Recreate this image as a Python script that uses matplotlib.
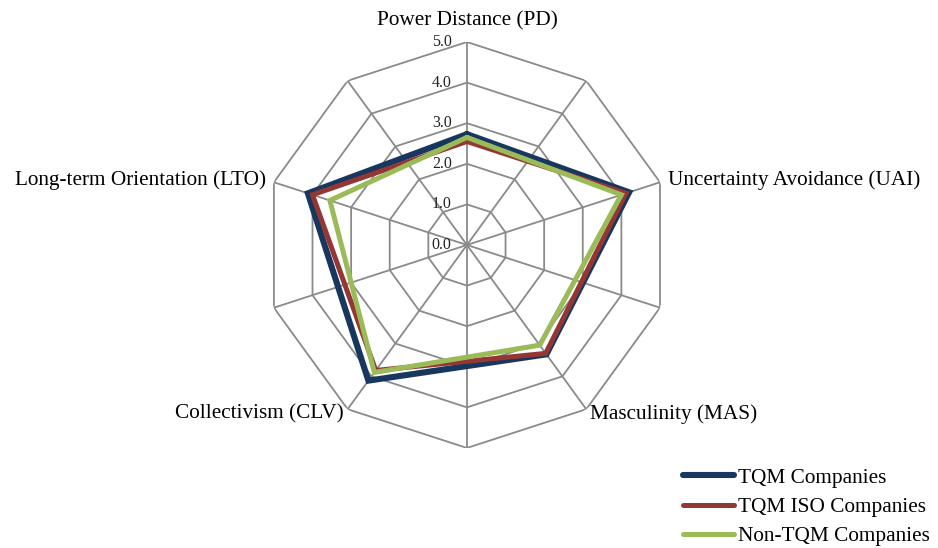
import numpy as np
import matplotlib.pyplot as plt

plt.rcParams['font.family'] = ['Liberation Serif', 'DejaVu Serif']

dimensions = ['Power Distance (PD)', 'Uncertainty Avoidance (UAI)', 'Masculinity (MAS)',
              'Collectivism (CLV)', 'Long-term Orientation (LTO)']
tqm = [2.73, 4.20, 3.33, 4.13, 4.12]
tqm_iso = [2.55, 4.12, 3.30, 3.82, 4.00]
non_tqm = [2.65, 4.00, 3.05, 3.88, 3.55]
series_names = ['TQM Companies', 'TQM ISO Companies', 'Non-TQM Companies']
colors = ['#17375E', '#943634', '#9BBB59']
widths = [4.4, 3.6, 3.6]
rings = [0.0, 1.0, 2.0, 3.0, 4.0, 5.0]

fig = plt.figure(figsize=(9.38, 5.48), dpi=100)
ax = fig.add_axes([0.2814, 0.1825, 0.4328, 0.7409], projection='polar')
ax.set_theta_zero_location('N')
ax.set_theta_direction(-1)
ax.set_ylim(0, 5)
ax.grid(False)
ax.set_xticks([])
ax.set_yticks([])
ax.spines['polar'].set_visible(False)

# decagon web: twice as many spokes as there are dimensions
n = len(dimensions)
web = np.linspace(0, 2 * np.pi, 2 * n, endpoint=False)
grid_col = '#8A8A8A'
for r in rings[1:]:
    ax.plot(np.append(web, web[0]), [r] * (2 * n + 1), color=grid_col, lw=1.3, zorder=1)
for t in web:
    ax.plot([t, t], [0, rings[-1]], color=grid_col, lw=1.3, zorder=1)

for r in rings:
    ax.annotate(f'{r:.1f}', xy=(0, r), xytext=(-11, 0), textcoords='offset points',
                ha='right', va='center', fontsize=11.5, color='#222222')

angles = np.linspace(0, 2 * np.pi, n, endpoint=False)
for vals, name, c, lw in zip([tqm, tqm_iso, non_tqm], series_names, colors, widths):
    ax.plot(np.append(angles, angles[0]), vals + vals[:1], color=c, lw=lw,
            solid_joinstyle='miter', solid_capstyle='round', label=name, zorder=3)

fs = 15.3
ax.text(0, 5.53, dimensions[0], ha='center', va='center', fontsize=fs)
ax.text(angles[1], 5.2, dimensions[1], ha='left', va='center', fontsize=fs)
ax.text(angles[2], 5.15, dimensions[2], ha='left', va='center', fontsize=fs)
ax.text(angles[3], 5.15, dimensions[3], ha='right', va='center', fontsize=fs)
ax.text(angles[4], 5.2, dimensions[4], ha='right', va='center', fontsize=fs)

fig.legend(loc='center left', bbox_to_anchor=(0.728, 1 - 507 / 548), frameon=False,
           fontsize=fs, handlelength=2.4, handletextpad=0.2, labelspacing=0.45,
           borderpad=0, borderaxespad=0)

fig.savefig('out.png', dpi=100)
